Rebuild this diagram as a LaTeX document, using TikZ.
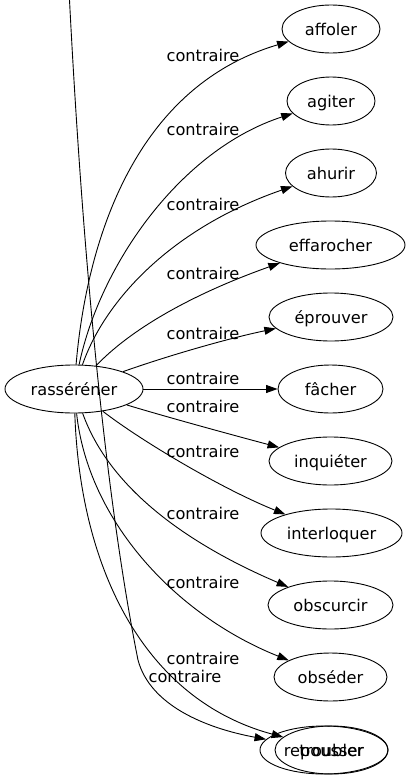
\documentclass[tikz,border=0pt]{standalone}
\usepackage{fontspec}
\setmainfont{DejaVu Sans}
\usetikzlibrary{arrows.meta,shapes.geometric}
\begin{document}
\begin{tikzpicture}[x=1pt,y=-1pt,
  word/.style={draw, line width=0.9pt, ellipse, inner sep=0pt, minimum height=48pt,
    text height=12pt, text depth=0pt, font=\fontsize{16.2}{19}\selectfont},
  lab/.style={anchor=base, inner sep=0pt, font=\fontsize{16.2}{19}\selectfont},
  rel/.style={draw, line width=0.9pt, -{Triangle[length=11.5pt,width=8pt]}}]
\useasboundingbox (0,0) rectangle (410,779);

\node[word, minimum width=138pt] (ras) at (74,389) {rasséréner};
\node[word, minimum width=98pt]  (affoler) at (331,29) {affoler};
\node[word, minimum width=88pt]  (agiter) at (331,101) {agiter};
\node[word, minimum width=91pt]  (ahurir) at (331,173) {ahurir};
\node[word, minimum width=149pt] (effarocher) at (330.5,245) {effarocher};
\node[word, minimum width=124pt] (eprouver) at (331,317) {éprouver};
\node[word, minimum width=105pt] (facher) at (330.5,389) {fâcher};
\node[word, minimum width=123pt] (inquieter) at (330.5,461) {inquiéter};
\node[word, minimum width=141pt] (interloquer) at (331.5,533) {interloquer};
\node[word, minimum width=125pt] (obscurcir) at (330.5,605) {obscurcir};
\node[word, minimum width=113pt] (obseder) at (330.5,677) {obséder};
\node[word, minimum width=128pt] (repousser) at (324,750) {repousser};
\node[word, minimum width=113pt] (troubler) at (331.5,750) {troubler};

\coordinate (src) at (69.5,0);
\coordinate (bend) at (138,660);

\draw[rel] (ras) .. controls (85,260) and (125,90) .. (affoler);
\draw[rel] (ras) .. controls (100,265) and (180,150) .. (agiter);
\draw[rel] (ras) .. controls (105,300) and (172,228) .. (ahurir);
\draw[rel] (ras) .. controls (130,330) and (190,295) .. (effarocher);
\draw[rel] (ras) .. controls (170,355) and (230,338) .. (eprouver);
\draw[rel] (ras) -- (facher);
\draw[rel] (ras) .. controls (170,418) and (240,437) .. (inquieter);
\draw[rel] (ras) .. controls (140,440) and (220,488) .. (interloquer);
\draw[rel] (ras) .. controls (110,490) and (190,545) .. (obscurcir);
\draw[rel] (ras) .. controls (88,520) and (175,615) .. (obseder);
\draw[rel] (ras) .. controls (80,570) and (145,700) .. (troubler);
\draw[rel] (src) .. controls (85,300) and (110,520) .. (bend)
  .. controls (150,705) and (205,728) .. (repousser);

\node[lab] (l1) at (203,61) {contraire};
\node[lab] (l2) at (203,135) {contraire};
\node[lab] (l3) at (203,210) {contraire};
\node[lab] (l4) at (203,279) {contraire};
\node[lab] (l5) at (203,339) {contraire};
\node[lab] (l6) at (203,384) {contraire};
\node[lab] (l7) at (203,412) {contraire};
\node[lab] (l8) at (203,457) {contraire};
\node[lab] (l9) at (203,519) {contraire};
\node[lab] (l10) at (203,588) {contraire};
\node[lab] (l11) at (203,664) {contraire};
\node[lab] (l12) at (185,682) {contraire};
\end{tikzpicture}
\end{document}
